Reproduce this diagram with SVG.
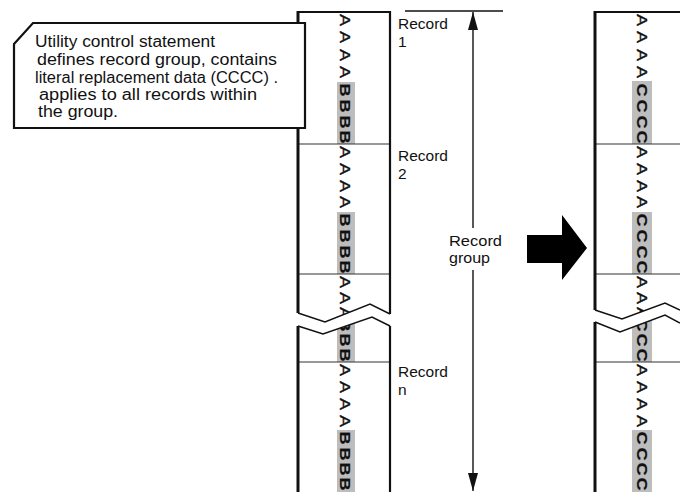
<svg xmlns="http://www.w3.org/2000/svg" width="680" height="492" viewBox="0 0 680 492">
  <defs>
    <style>
      .txt { font-family: "Liberation Sans", Arial, sans-serif; fill: #111; }
      .note { font-size: 16px; }
      .lbl { font-size: 15.5px; }
      .ch { font-family: "Liberation Sans", Arial, sans-serif; font-size: 14.5px; fill: #111; text-anchor: middle; stroke: #111; stroke-width: 0.35; }
      .hi { font-weight: bold; stroke-width: 0.2; }
      .edge { stroke: #111; fill: none; }
      .thick { stroke-width: 3; }
      .med { stroke-width: 2.2; }
      .thin { stroke-width: 1.1; stroke: #333; }
      .shade { fill: #bdbdbd; }
      .zig { stroke: #111; stroke-width: 1.5; fill: none; stroke-linejoin: miter; }
    </style>
    <marker id="dimHead" viewBox="0 0 18 10" markerWidth="18" markerHeight="10" markerUnits="userSpaceOnUse" refX="18" refY="5" orient="auto-start-reverse">
      <path d="M0,0 L18,5 L0,10 z" fill="#111"/>
    </marker>
  </defs>

  <rect width="680" height="492" fill="#fff"/>

  <!-- Record strip before replacement -->
  <g id="strip-before">
    <rect class="shade" x="337" y="82" width="18" height="62"/>
    <rect class="shade" x="337" y="212" width="18" height="62"/>
    <rect class="shade" x="337" y="316" width="18" height="46"/>
    <rect class="shade" x="337" y="430" width="18" height="62"/>
    <g transform="translate(345,0)">
      <text class="ch" transform="translate(0,20) rotate(90) scale(1.25,1)" dy="0.36em">A</text>
      <text class="ch" transform="translate(0,37) rotate(90) scale(1.25,1)" dy="0.36em">A</text>
      <text class="ch" transform="translate(0,55) rotate(90) scale(1.25,1)" dy="0.36em">A</text>
      <text class="ch" transform="translate(0,72) rotate(90) scale(1.25,1)" dy="0.36em">A</text>
      <text class="ch hi" transform="translate(0,90) rotate(90) scale(1.25,1)" dy="0.36em">B</text>
      <text class="ch hi" transform="translate(0,106) rotate(90) scale(1.25,1)" dy="0.36em">B</text>
      <text class="ch hi" transform="translate(0,122) rotate(90) scale(1.25,1)" dy="0.36em">B</text>
      <text class="ch hi" transform="translate(0,137) rotate(90) scale(1.25,1)" dy="0.36em">B</text>
      <text class="ch" transform="translate(0,152) rotate(90) scale(1.25,1)" dy="0.36em">A</text>
      <text class="ch" transform="translate(0,169) rotate(90) scale(1.25,1)" dy="0.36em">A</text>
      <text class="ch" transform="translate(0,186) rotate(90) scale(1.25,1)" dy="0.36em">A</text>
      <text class="ch" transform="translate(0,202) rotate(90) scale(1.25,1)" dy="0.36em">A</text>
      <text class="ch hi" transform="translate(0,220) rotate(90) scale(1.25,1)" dy="0.36em">B</text>
      <text class="ch hi" transform="translate(0,236) rotate(90) scale(1.25,1)" dy="0.36em">B</text>
      <text class="ch hi" transform="translate(0,252) rotate(90) scale(1.25,1)" dy="0.36em">B</text>
      <text class="ch hi" transform="translate(0,267) rotate(90) scale(1.25,1)" dy="0.36em">B</text>
      <text class="ch" transform="translate(0,282) rotate(90) scale(1.25,1)" dy="0.36em">A</text>
      <text class="ch" transform="translate(0,298) rotate(90) scale(1.25,1)" dy="0.36em">A</text>
      <text class="ch" transform="translate(0,313) rotate(90) scale(1.25,1)" dy="0.36em">A</text>
      <text class="ch hi" transform="translate(0,325) rotate(90) scale(1.25,1)" dy="0.36em">B</text>
      <text class="ch hi" transform="translate(0,340) rotate(90) scale(1.25,1)" dy="0.36em">B</text>
      <text class="ch hi" transform="translate(0,355) rotate(90) scale(1.25,1)" dy="0.36em">B</text>
      <text class="ch" transform="translate(0,370) rotate(90) scale(1.25,1)" dy="0.36em">A</text>
      <text class="ch" transform="translate(0,387) rotate(90) scale(1.25,1)" dy="0.36em">A</text>
      <text class="ch" transform="translate(0,404) rotate(90) scale(1.25,1)" dy="0.36em">A</text>
      <text class="ch" transform="translate(0,421) rotate(90) scale(1.25,1)" dy="0.36em">A</text>
      <text class="ch hi" transform="translate(0,438) rotate(90) scale(1.25,1)" dy="0.36em">B</text>
      <text class="ch hi" transform="translate(0,454) rotate(90) scale(1.25,1)" dy="0.36em">B</text>
      <text class="ch hi" transform="translate(0,469) rotate(90) scale(1.25,1)" dy="0.36em">B</text>
      <text class="ch hi" transform="translate(0,484) rotate(90) scale(1.25,1)" dy="0.36em">B</text>
    </g>
    <!-- record boundaries -->
    <line class="edge thin" x1="298" y1="144" x2="390" y2="144"/>
    <line class="edge thin" x1="298" y1="274" x2="390" y2="274"/>
    <line class="edge thin" x1="298" y1="362" x2="390" y2="362"/>
    <!-- break in the strip -->
    <polygon points="296,313 325,322 370,304 392,314 392,326 372,317 323,334 296,326" fill="#fff"/>
    <polyline class="zig" points="298,313 325,322 370,304 390,314"/>
    <polyline class="zig" points="298,326 323,334 372,317 390,326"/>
    <!-- outline -->
    <line class="edge med" x1="297" y1="12" x2="391" y2="12"/>
    <line class="edge thick" x1="298" y1="11" x2="298" y2="313"/>
    <line class="edge thick" x1="298" y1="326" x2="298" y2="492"/>
    <line class="edge med" x1="390" y1="11" x2="390" y2="314"/>
    <line class="edge med" x1="390" y1="326" x2="390" y2="492"/>
  </g>

  <!-- Record strip after replacement -->
  <g id="strip-after">
    <rect class="shade" x="632" y="81" width="20" height="63"/>
    <rect class="shade" x="632" y="212" width="20" height="62"/>
    <rect class="shade" x="632" y="316" width="20" height="46"/>
    <rect class="shade" x="632" y="430" width="20" height="62"/>
    <g transform="translate(642,0)">
      <text class="ch" transform="translate(0,20) rotate(90) scale(1.25,1)" dy="0.36em">A</text>
      <text class="ch" transform="translate(0,37) rotate(90) scale(1.25,1)" dy="0.36em">A</text>
      <text class="ch" transform="translate(0,55) rotate(90) scale(1.25,1)" dy="0.36em">A</text>
      <text class="ch" transform="translate(0,72) rotate(90) scale(1.25,1)" dy="0.36em">A</text>
      <text class="ch hi" transform="translate(0,90) rotate(90) scale(1.25,1)" dy="0.36em">C</text>
      <text class="ch hi" transform="translate(0,106) rotate(90) scale(1.25,1)" dy="0.36em">C</text>
      <text class="ch hi" transform="translate(0,122) rotate(90) scale(1.25,1)" dy="0.36em">C</text>
      <text class="ch hi" transform="translate(0,137) rotate(90) scale(1.25,1)" dy="0.36em">C</text>
      <text class="ch" transform="translate(0,152) rotate(90) scale(1.25,1)" dy="0.36em">A</text>
      <text class="ch" transform="translate(0,169) rotate(90) scale(1.25,1)" dy="0.36em">A</text>
      <text class="ch" transform="translate(0,186) rotate(90) scale(1.25,1)" dy="0.36em">A</text>
      <text class="ch" transform="translate(0,202) rotate(90) scale(1.25,1)" dy="0.36em">A</text>
      <text class="ch hi" transform="translate(0,220) rotate(90) scale(1.25,1)" dy="0.36em">C</text>
      <text class="ch hi" transform="translate(0,236) rotate(90) scale(1.25,1)" dy="0.36em">C</text>
      <text class="ch hi" transform="translate(0,252) rotate(90) scale(1.25,1)" dy="0.36em">C</text>
      <text class="ch hi" transform="translate(0,267) rotate(90) scale(1.25,1)" dy="0.36em">C</text>
      <text class="ch" transform="translate(0,282) rotate(90) scale(1.25,1)" dy="0.36em">A</text>
      <text class="ch" transform="translate(0,298) rotate(90) scale(1.25,1)" dy="0.36em">A</text>
      <text class="ch" transform="translate(0,313) rotate(90) scale(1.25,1)" dy="0.36em">A</text>
      <text class="ch hi" transform="translate(0,325) rotate(90) scale(1.25,1)" dy="0.36em">C</text>
      <text class="ch hi" transform="translate(0,340) rotate(90) scale(1.25,1)" dy="0.36em">C</text>
      <text class="ch hi" transform="translate(0,355) rotate(90) scale(1.25,1)" dy="0.36em">C</text>
      <text class="ch" transform="translate(0,370) rotate(90) scale(1.25,1)" dy="0.36em">A</text>
      <text class="ch" transform="translate(0,387) rotate(90) scale(1.25,1)" dy="0.36em">A</text>
      <text class="ch" transform="translate(0,404) rotate(90) scale(1.25,1)" dy="0.36em">A</text>
      <text class="ch" transform="translate(0,421) rotate(90) scale(1.25,1)" dy="0.36em">A</text>
      <text class="ch hi" transform="translate(0,438) rotate(90) scale(1.25,1)" dy="0.36em">C</text>
      <text class="ch hi" transform="translate(0,454) rotate(90) scale(1.25,1)" dy="0.36em">C</text>
      <text class="ch hi" transform="translate(0,469) rotate(90) scale(1.25,1)" dy="0.36em">C</text>
      <text class="ch hi" transform="translate(0,484) rotate(90) scale(1.25,1)" dy="0.36em">C</text>
    </g>
    <line class="edge thin" x1="595" y1="144" x2="680" y2="144"/>
    <line class="edge thin" x1="595" y1="274" x2="680" y2="274"/>
    <line class="edge thin" x1="595" y1="362" x2="680" y2="362"/>
    <polygon points="593,310 622,319 665,303 680,310 680,323 665,315 620,332 593,322" fill="#fff"/>
    <polyline class="zig" points="595,310 622,319 665,303 680,310"/>
    <polyline class="zig" points="595,322 620,332 665,315 680,323"/>
    <line class="edge med" x1="594" y1="12" x2="680" y2="12"/>
    <line class="edge thick" x1="595" y1="11" x2="595" y2="310"/>
    <line class="edge thick" x1="595" y1="322" x2="595" y2="492"/>
  </g>

  <!-- Callout with the control statement description -->
  <g id="callout">
    <polygon points="14,44 33,23 305,23 305,128 14,128" fill="#fff" stroke="#111" stroke-width="2.2" stroke-linejoin="miter"/>
    <text class="txt note" x="35" y="47" textLength="180" lengthAdjust="spacingAndGlyphs">Utility control statement</text>
    <text class="txt note" x="37" y="65" textLength="240" lengthAdjust="spacingAndGlyphs">defines record group, contains</text>
    <text class="txt note" x="35" y="83" textLength="243" lengthAdjust="spacingAndGlyphs">literal replacement data (CCCC) .</text>
    <text class="txt note" x="39" y="100" textLength="218" lengthAdjust="spacingAndGlyphs">applies to all records within</text>
    <text class="txt note" x="38" y="117" textLength="80" lengthAdjust="spacingAndGlyphs">the group.</text>
  </g>

  <!-- Record labels -->
  <g id="record-1">
    <text class="txt lbl" x="398" y="29">Record</text>
    <text class="txt lbl" x="398" y="47">1</text>
  </g>
  <g id="record-2">
    <text class="txt lbl" x="398" y="161">Record</text>
    <text class="txt lbl" x="398" y="179">2</text>
  </g>
  <g id="record-n">
    <text class="txt lbl" x="398" y="377">Record</text>
    <text class="txt lbl" x="398" y="395">n</text>
  </g>
  <g id="record-group">
    <text class="txt" x="449" y="246" style="font-size:14.5px" textLength="53" lengthAdjust="spacingAndGlyphs">Record</text>
    <text class="txt" x="449" y="263" style="font-size:14.5px" textLength="41" lengthAdjust="spacingAndGlyphs">group</text>
  </g>

  <!-- Connectors: group extent dimension and transformation arrow -->
  <g id="connectors">
    <line x1="405" y1="11" x2="503" y2="11" stroke="#111" stroke-width="1.3"/>
    <line x1="473" y1="12" x2="473" y2="228" stroke="#111" stroke-width="1.4" marker-start="url(#dimHead)"/>
    <line x1="473" y1="270" x2="473" y2="491" stroke="#111" stroke-width="1.4" marker-end="url(#dimHead)"/>
    <polygon id="transform-arrow" points="527,235 562,235 562,215 587,248 562,280 562,263 527,263" fill="#000"/>
  </g>
</svg>
